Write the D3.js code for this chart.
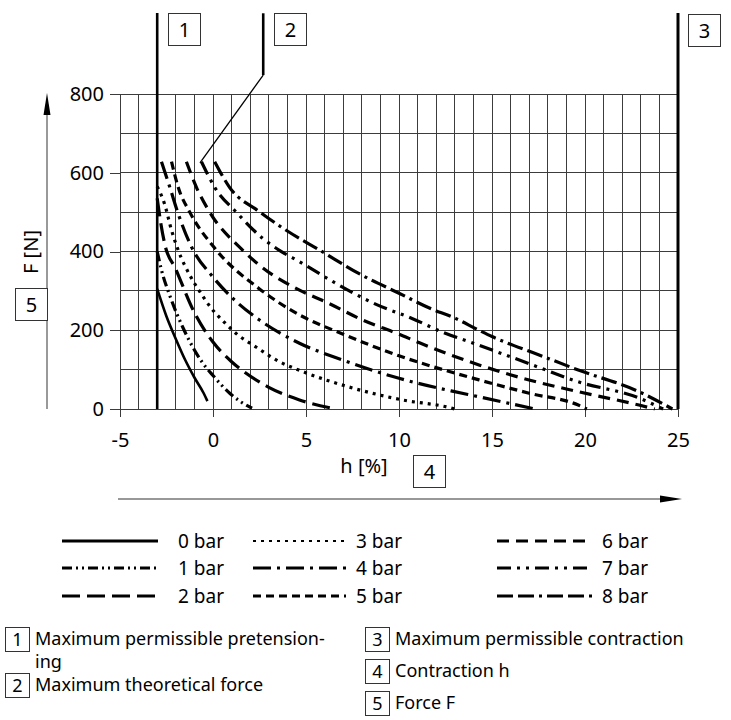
<!DOCTYPE html>
<html lang="en">
<head>
<meta charset="utf-8">
<title>Force F against contraction h</title>
<script src="https://d3js.org/d3.v7.min.js"></script>
<style>
	body { margin: 0; background: #fff; }
	text { font-family: "Noto Sans", "Open Sans", sans-serif; fill: #000; }
	.grid line { stroke: #3c3c3c; stroke-width: 1; shape-rendering: crispEdges; }
	.axis path { display: none; }
	.axis line { stroke: #3c3c3c; shape-rendering: crispEdges; }
	.axis text { font-size: 20px; }
</style>
</head>
<body>
<svg id="chart" width="731" height="720"></svg>
<script>
// tick labels
var hTicks = [-5, 0, 5, 10, 15, 20, 25];
var fTicks = [0, 200, 400, 600, 800];
var labels = ["0 bar", "1 bar", "2 bar", "3 bar", "4 bar", "5 bar", "6 bar", "7 bar", "8 bar"];

// curves: [h %, F N]
var bar0 = [[-3,305],[-2.5,235],[-2,178],[-1.5,125],[-1,80],[-0.5,40],[-0.3,20]];
var bar1 = [[-3,400],[-2.77,353],[-2.3,285],[-1.6,205],[-1,150],[-0.6,120],[0,85],[0.9,40],[1.5,18],[2.1,2]];
var bar2 = [[-3,535],[-2.8,470],[-2.6,420],[-2,355],[-1,245],[0,170],[1,120],[1.8,90],[3,55],[4.65,23],[6.6,0]];
var bar3 = [[-3,565],[-2.6,520],[-2.23,454],[-1.87,403],[-1.25,340],[-0.71,298],[-0.09,256],[0.57,222],[1.34,188],[2.23,160],[3.5,122],[4.82,95],[7.23,57],[10.18,23],[12.68,4],[13,0]];
var bar4 = [[-2.77,628],[-2.3,560],[-1.9,500],[-1.16,412],[0,335],[1.2,275],[2.5,226],[4.65,167],[7,124],[10,78],[12.8,46],[14.3,31],[17.3,0]];
var bar5 = [[-2.23,628],[-1.87,563],[-1.25,500],[0.1,408],[2.5,305],[4.65,239],[7,190],[10,135],[12.5,98],[14.3,74],[17,40],[19.64,10],[20.1,0]];
var bar6 = [[-1.43,628],[-0.89,563],[-0.18,500],[1.54,406],[2.5,365],[4.65,302],[6.15,270],[8,227],[10,190],[11.1,168],[14.3,112],[16.5,80],[19.64,44],[22.9,10],[23.75,0]];
var bar7 = [[-0.62,628],[0.09,563],[1.25,500],[2.68,433],[3.57,403],[4.65,374],[6.5,322],[8.8,265],[10.7,230],[12.3,196],[14.3,162],[17,115],[19.64,69],[22.9,28],[24.2,0]];
var bar8 = [[0.09,628],[0.89,563],[2.5,501],[4.65,433],[5.5,410],[8,340],[10,294],[11.75,254],[12.86,234],[14.3,200],[15,184],[17.5,138],[19.64,99],[22.9,44],[24.7,0]];
var curves = [bar0, bar1, bar2, bar3, bar4, bar5, bar6, bar7, bar8];

// annotation markers, in data units
var limitH = -3;       // 1: max permissible pretensioning
var contractH = 25;    // 3: max permissible contraction
var leader2 = [[2.7,1005],[2.7,848],[-0.7,625]];

var dashes = ["none", "10,4,2,4,2,4", "18,7", "3,5", "18,6,3,6", "8,5", "12,7", "14,6,3,6,3,6", "16,5,16,5,3,5"];

var svg = d3.select("#chart");
var x = d3.scaleLinear().domain([-5, 25]).range([120, 678]);
var y = d3.scaleLinear().domain([0, 800]).range([409, 94]);

// grid
var grid = svg.append("g").attr("class", "grid");
grid.selectAll(".v").data(d3.range(-4, 25)).enter().append("line")
	.attr("x1", function(d) { return x(d); }).attr("x2", function(d) { return x(d); })
	.attr("y1", y(0)).attr("y2", y(800));
grid.selectAll(".h").data(d3.range(0, 801, 100)).enter().append("line")
	.attr("x1", x(-5)).attr("x2", x(25))
	.attr("y1", function(d) { return y(d); }).attr("y2", function(d) { return y(d); });
grid.append("line").attr("x1", x(-5)).attr("x2", x(-5)).attr("y1", y(0)).attr("y2", y(800));

// axes
var yAxis = d3.axisLeft(y).tickValues(fTicks).tickSize(10).tickPadding(6);
svg.append("g").attr("class", "axis").attr("transform", "translate(" + x(-5) + ",0)").call(yAxis);
var xAxis = d3.axisBottom(x).tickValues(hTicks).tickSize(8).tickPadding(16).tickFormat(function(d) { return String(d); });
svg.append("g").attr("class", "axis").attr("transform", "translate(0," + y(0) + ")").call(xAxis);

// curves
var line = d3.line().x(function(d) { return x(d[0]); }).y(function(d) { return y(d[1]); }).curve(d3.curveMonotoneX);
svg.append("g").selectAll("path").data(curves).enter().append("path")
	.attr("d", line)
	.attr("fill", "none")
	.attr("stroke", "#000")
	.attr("stroke-width", function(d, i) { return i == 0 ? 2.6 : 3.2; })
	.attr("stroke-dasharray", function(d, i) { return dashes[i]; });

// marker lines
svg.append("line").attr("x1", x(limitH)).attr("x2", x(limitH)).attr("y1", 13).attr("y2", y(0))
	.attr("stroke", "#000").attr("stroke-width", 2.6);
svg.append("line").attr("x1", x(contractH)).attr("x2", x(contractH)).attr("y1", 13).attr("y2", y(0))
	.attr("stroke", "#000").attr("stroke-width", 3);
svg.append("line").attr("x1", x(leader2[0][0])).attr("x2", x(leader2[1][0]))
	.attr("y1", y(leader2[0][1])).attr("y2", y(leader2[1][1])).attr("stroke", "#000").attr("stroke-width", 2.6);
svg.append("line").attr("x1", x(leader2[1][0])).attr("x2", x(leader2[2][0]))
	.attr("y1", y(leader2[1][1])).attr("y2", y(leader2[2][1])).attr("stroke", "#000").attr("stroke-width", 1.3);

function box(bx, by, size, num, fs) {
	svg.append("rect").attr("x", bx + 0.5).attr("y", by + 0.5).attr("width", size).attr("height", size)
		.attr("fill", "#fff").attr("stroke", "#333").attr("stroke-width", 1);
	svg.append("text").attr("x", bx + size / 2 + 0.5).attr("y", by + size / 2 + 0.5).attr("dy", "0.36em")
		.attr("text-anchor", "middle").style("font-size", fs + "px").text(num);
}

// axis arrows
svg.append("line").attr("x1", 47).attr("x2", 47).attr("y1", 409).attr("y2", 110).attr("stroke", "#555").attr("stroke-width", 1.2);
svg.append("path").attr("d", "M47,93 L43.5,115 L50.5,115 Z").attr("fill", "#000");
svg.append("line").attr("x1", 118).attr("x2", 665).attr("y1", 499).attr("y2", 499).attr("stroke", "#333").attr("stroke-width", 1.2);
svg.append("path").attr("d", "M682,499 L660,495.5 L660,502.5 Z").attr("fill", "#000");

svg.append("text").attr("transform", "translate(38,252) rotate(-90)").attr("text-anchor", "middle")
	.style("font-size", "20px").text("F [N]");
svg.append("text").attr("x", 364).attr("y", 473).attr("text-anchor", "middle").style("font-size", "20px").text("h [%]");

box(168, 13, 32, "1", 20);
box(274, 13, 32, "2", 20);
box(688, 14, 32, "3", 20);
box(413, 455, 32, "4", 20);
box(15, 288, 32, "5", 20);

// legend
var legX = [62, 253, 497], legW = [96, 93, 95], legTx = [178, 356, 602], legY = [541, 568, 596];
labels.forEach(function(lab, i) {
	var c = Math.floor(i / 3), r = i % 3;
	svg.append("line").attr("x1", legX[c]).attr("x2", legX[c] + legW[c]).attr("y1", legY[r]).attr("y2", legY[r])
		.attr("stroke", "#000").attr("stroke-width", i == 3 ? 2.2 : 3)
		.attr("stroke-dasharray", dashes[i]);
	svg.append("text").attr("x", legTx[c]).attr("y", legY[r]).attr("dy", "0.36em").style("font-size", "19px").text(lab);
});

// notes
var notes = [
	[5, 627, "1", ["Maximum permissible pretension-", "ing"]],
	[5, 673, "2", ["Maximum theoretical force"]],
	[365, 627, "3", ["Maximum permissible contraction"]],
	[365, 659, "4", ["Contraction h"]],
	[365, 691, "5", ["Force F"]]
];
notes.forEach(function(n) {
	box(n[0], n[1], 24, n[2], 18);
	n[3].forEach(function(t, k) {
		svg.append("text").attr("x", n[0] + 30).attr("y", n[1] + 12 + k * 23).attr("dy", "0.36em")
			.style("font-size", "18px").text(t);
	});
});
</script>
</body>
</html>
